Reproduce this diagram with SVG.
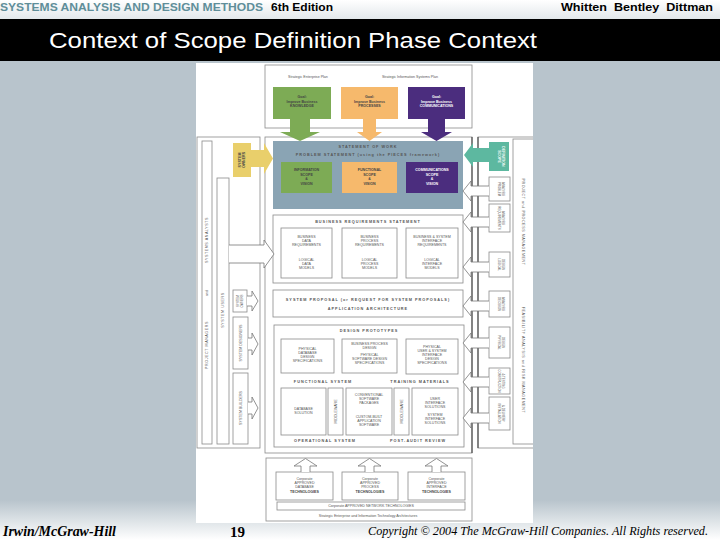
<svg xmlns="http://www.w3.org/2000/svg" width="720" height="540" viewBox="0 0 720 540">
<defs>
<linearGradient id="hdr" x1="0" y1="0" x2="0" y2="1"><stop offset="0" stop-color="#ffffff"/><stop offset="1" stop-color="#e3e8eb"/></linearGradient>
<linearGradient id="ftr" x1="0" y1="0" x2="0" y2="1"><stop offset="0" stop-color="#b8c4cc"/><stop offset="1" stop-color="#ffffff"/></linearGradient>
<clipPath id="fig"><rect x="196" y="63" width="337" height="460"/></clipPath>
</defs>
<style>
.box{fill:#fff;stroke:#8a8a8a;stroke-width:0.8}
.dk{fill:none;stroke:#444;stroke-width:1.1}
.oa{fill:#fff;stroke:#777;stroke-width:0.8}
.t{font-family:"Liberation Sans",Arial,sans-serif;font-size:3.6px;fill:#555;text-anchor:middle}
.tp{font-family:"Liberation Sans",Arial,sans-serif;font-size:2.9px;fill:#555;text-anchor:middle}
.tb{font-family:"Liberation Sans",Arial,sans-serif;font-size:3.6px;fill:#444;text-anchor:middle;font-weight:bold}
.tw{font-family:"Liberation Sans",Arial,sans-serif;font-size:3.6px;fill:#fff;text-anchor:middle;font-weight:bold}
.ts{font-family:"Liberation Sans",Arial,sans-serif;font-size:3.8px;fill:#555;text-anchor:middle;letter-spacing:1px;font-weight:bold}
.hd{font-family:"Liberation Sans",Arial,sans-serif;font-size:11.5px;font-weight:bold}
</style>
<rect width="720" height="540" fill="#b8c4cc"/>
<rect width="720" height="19" fill="url(#hdr)"/>
<rect y="500" width="720" height="40" fill="url(#ftr)"/>
<rect y="19" width="720" height="42" fill="#000"/>
<text class="hd" x="0" y="11" fill="#5f8e99" textLength="263" lengthAdjust="spacingAndGlyphs">SYSTEMS ANALYSIS AND DESIGN METHODS</text>
<text class="hd" x="271" y="11" fill="#000" textLength="62" lengthAdjust="spacingAndGlyphs">6th Edition</text>
<text class="hd" x="561" y="11" fill="#000" textLength="152" lengthAdjust="spacingAndGlyphs" xml:space="preserve">Whitten  Bentley  Dittman</text>
<text x="49" y="48" font-family="Liberation Sans,Arial,sans-serif" font-size="22" fill="#fff" textLength="488" lengthAdjust="spacingAndGlyphs">Context of Scope Definition Phase Context</text>

<g id="figure" clip-path="url(#fig)">
<rect x="196" y="63" width="337" height="460" fill="#fff"/>

<g id="plans">
<rect class="box" x="265" y="65" width="207" height="63"/>
<text class="t" x="308" y="78">Strategic Enterprise Plan</text>
<text class="t" x="410" y="78">Strategic Information Systems Plan</text>
</g>
<g id="goal-knowledge"><rect x="273" y="87" width="58" height="32" fill="#7dab55"/>
<text class="tb" x="302" y="98">Goal:</text><text class="tb" x="302" y="102.5">Improve Business</text><text class="tb" x="302" y="107">KNOWLEDGE</text></g>
<g id="goal-processes"><rect x="341" y="87" width="57" height="32" fill="#f6b96c"/>
<text class="tb" x="369.5" y="98">Goal:</text><text class="tb" x="369.5" y="102.5">Improve Business</text><text class="tb" x="369.5" y="107">PROCESSES</text></g>
<g id="goal-communications"><rect x="408" y="87" width="57" height="32" fill="#4b2d7e"/>
<text class="tw" x="436.5" y="98">Goal:</text><text class="tw" x="436.5" y="102.5">Improve Business</text><text class="tw" x="436.5" y="107">COMMUNICATIONS</text></g>

<g id="main-frame"><rect class="box" x="265" y="137" width="207" height="316"/></g>

<g id="statement-of-work">
<rect x="273" y="141" width="190" height="68" fill="#8aa4b4"/>
<text class="ts" x="368" y="148" fill="#334">STATEMENT OF WORK</text>
<text class="ts" x="368" y="156" letter-spacing="0.6">PROBLEM STATEMENT (using the PIECES framework)</text>
<rect x="281" y="162" width="51" height="31" fill="#7dab55"/>
<text class="tb" x="306.5" y="171">INFORMATION</text><text class="tb" x="306.5" y="175.5">SCOPE</text><text class="tb" x="306.5" y="180">&amp;</text><text class="tb" x="306.5" y="184.5">VISION</text>
<rect x="342" y="162" width="55" height="31" fill="#f6b96c"/>
<text class="tb" x="369.5" y="171">FUNCTIONAL</text><text class="tb" x="369.5" y="175.5">SCOPE</text><text class="tb" x="369.5" y="180">&amp;</text><text class="tb" x="369.5" y="184.5">VISION</text>
<rect x="406" y="162" width="52" height="31" fill="#4b2d7e"/>
<text class="tw" x="432" y="171">COMMUNICATIONS</text><text class="tw" x="432" y="175.5">SCOPE</text><text class="tw" x="432" y="180">&amp;</text><text class="tw" x="432" y="184.5">VISION</text>
</g>

<g id="business-requirements">
<rect class="box" x="273" y="215" width="190" height="68"/>
<text class="ts" x="368" y="222.5">BUSINESS REQUIREMENTS STATEMENT</text>
<rect class="box" x="281" y="228" width="51" height="50"/>
<text class="t" x="306.5" y="238">BUSINESS</text><text class="t" x="306.5" y="242">DATA</text><text class="t" x="306.5" y="246">REQUIREMENTS</text>
<text class="t" x="306.5" y="261">LOGICAL</text><text class="t" x="306.5" y="265">DATA</text><text class="t" x="306.5" y="269">MODELS</text>
<rect class="box" x="342" y="228" width="55" height="50"/>
<text class="t" x="369.5" y="238">BUSINESS</text><text class="t" x="369.5" y="242">PROCESS</text><text class="t" x="369.5" y="246">REQUIREMENTS</text>
<text class="t" x="369.5" y="261">LOGICAL</text><text class="t" x="369.5" y="265">PROCESS</text><text class="t" x="369.5" y="269">MODELS</text>
<rect class="box" x="406" y="228" width="52" height="50"/>
<text class="t" x="432" y="238">BUSINESS &amp; SYSTEM</text><text class="t" x="432" y="242">INTERFACE</text><text class="t" x="432" y="246">REQUIREMENTS</text>
<text class="t" x="432" y="261">LOGICAL</text><text class="t" x="432" y="265">INTERFACE</text><text class="t" x="432" y="269">MODELS</text>
</g>

<g id="system-proposal">
<rect class="box" x="273" y="290" width="190" height="27"/>
<text class="ts" x="368" y="300.5" letter-spacing="0.8">SYSTEM PROPOSAL  (or REQUEST FOR SYSTEM PROPOSALS)</text>
<text class="ts" x="368" y="310">APPLICATION ARCHITECTURE</text>
</g>

<g id="design-prototypes">
<rect class="box" x="274" y="325" width="190" height="122"/>
<text class="ts" x="369" y="332">DESIGN PROTOTYPES</text>
<rect class="box" x="281" y="339" width="53" height="34"/>
<text class="t" x="307.5" y="350">PHYSICAL</text><text class="t" x="307.5" y="354">DATABASE</text><text class="t" x="307.5" y="358">DESIGN</text><text class="t" x="307.5" y="362">SPECIFICATIONS</text>
<rect class="box" x="342" y="339" width="55" height="34"/>
<text class="t" x="369.5" y="345">BUSINESS PROCESS</text><text class="t" x="369.5" y="349">DESIGN</text><text class="t" x="369.5" y="356">PHYSICAL</text><text class="t" x="369.5" y="360">SOFTWARE DESIGN</text><text class="t" x="369.5" y="364">SPECIFICATIONS</text>
<rect class="box" x="406" y="339" width="52" height="35"/>
<text class="t" x="432" y="348">PHYSICAL</text><text class="t" x="432" y="352">USER &amp; SYSTEM</text><text class="t" x="432" y="356">INTERFACE</text><text class="t" x="432" y="360">DESIGN</text><text class="t" x="432" y="364">SPECIFICATIONS</text>
<text class="ts" x="323" y="383">FUNCTIONAL SYSTEM</text>
<text class="ts" x="420" y="383">TRAINING MATERIALS</text>
<rect class="box" x="281" y="388" width="45" height="47"/>
<text class="t" x="303.5" y="410">DATABASE</text><text class="t" x="303.5" y="414">SOLUTION</text>
<rect class="box" x="328" y="388" width="15" height="47"/>
<text class="t" transform="translate(336.5,411.5) rotate(-90)">MIDDLEWARE</text>
<rect class="box" x="346" y="388" width="46" height="47"/>
<text class="t" x="369" y="396">CONVENTIONAL</text><text class="t" x="369" y="400">SOFTWARE</text><text class="t" x="369" y="404">PACKAGES</text>
<text class="t" x="369" y="418">CUSTOM-BUILT</text><text class="t" x="369" y="422">APPLICATION</text><text class="t" x="369" y="426">SOFTWARE</text>
<rect class="box" x="394" y="388" width="15" height="47"/>
<text class="t" transform="translate(402.5,411.5) rotate(-90)">MIDDLEWARE</text>
<rect class="box" x="412" y="388" width="46" height="47"/>
<text class="t" x="435" y="400">USER</text><text class="t" x="435" y="404">INTERFACE</text><text class="t" x="435" y="408">SOLUTIONS</text>
<text class="t" x="435" y="416">SYSTEM</text><text class="t" x="435" y="420">INTERFACE</text><text class="t" x="435" y="424">SOLUTIONS</text>
<text class="ts" x="325" y="442">OPERATIONAL SYSTEM</text>
<text class="ts" x="418" y="442">POST-AUDIT REVIEW</text>
</g>

<g id="technologies">
<rect class="box" x="266" y="458" width="206" height="63"/>
<rect class="box" x="276" y="472" width="57" height="28"/>
<text class="t" x="304.5" y="480">Corporate</text><text class="t" x="304.5" y="484">APPROVED</text><text class="t" x="304.5" y="488">DATABASE</text><text class="tb" x="304.5" y="493">TECHNOLOGIES</text>
<rect class="box" x="342" y="472" width="56" height="28"/>
<text class="t" x="370" y="480">Corporate</text><text class="t" x="370" y="484">APPROVED</text><text class="t" x="370" y="488">PROCESS</text><text class="tb" x="370" y="493">TECHNOLOGIES</text>
<rect class="box" x="408" y="472" width="57" height="28"/>
<text class="t" x="436.5" y="480">Corporate</text><text class="t" x="436.5" y="484">APPROVED</text><text class="t" x="436.5" y="488">INTERFACE</text><text class="tb" x="436.5" y="493">TECHNOLOGIES</text>
<rect class="box" x="277" y="502" width="188" height="8"/>
<text class="t" x="371" y="507.3">Corporate APPROVED NETWORK TECHNOLOGIES</text>
<text class="t" x="368" y="517">Strategic Enterprise and Information Technology Architectures</text>
</g>

<g id="left-stakeholders">
<rect class="box" x="197" y="137" width="63" height="311" stroke="#555"/>
<rect class="box" x="202" y="141" width="10" height="303"/>
<text class="t" transform="translate(208.3,240) rotate(-90)" letter-spacing="0.6">SYSTEMS ANALYSTS</text>
<text class="t" transform="translate(208.3,293) rotate(-90)">and</text>
<text class="t" transform="translate(208.3,345) rotate(-90)" letter-spacing="0.6">PROJECT MANAGERS</text>
<rect class="box" x="217" y="178" width="12" height="266"/>
<text class="t" transform="translate(224.3,310) rotate(-90)" letter-spacing="0.6">SYSTEM USERS</text>
</g>
<g id="system-owners-top"><rect x="233" y="143" width="18" height="34" fill="#e9cf6b"/>
<text class="tb" transform="translate(241,160) rotate(-90)">SYSTEM</text><text class="tb" transform="translate(245,160) rotate(-90)">OWNERS</text></g>
<g id="system-owners-2"><rect class="box" x="233" y="290" width="14" height="22"/>
<text class="tp" transform="translate(239.3,301) rotate(-90)">SYSTEM</text><text class="tp" transform="translate(243.3,301) rotate(-90)">OWNERS</text></g>
<g id="system-designers"><rect class="box" x="233" y="317" width="15" height="52"/>
<text class="t" transform="translate(241.8,343) rotate(-90)">SYSTEM DESIGNERS</text></g>
<g id="system-builders"><rect class="box" x="233" y="373" width="15" height="71"/>
<text class="t" transform="translate(241.8,408) rotate(-90)">SYSTEM BUILDERS</text></g>

<g id="right-phases">
<rect class="box" x="478" y="137" width="70" height="311"/>
<line class="dk" x1="472" y1="137" x2="472" y2="453"/>
<line class="dk" x1="478" y1="137" x2="478" y2="448"/>
<rect class="box" x="513" y="139" width="40" height="305"/>
<text class="t" transform="translate(521.5,222) rotate(90)" letter-spacing="0.6">PROJECT and PROCESS MANAGEMENT</text>
<text class="t" transform="translate(521.5,360) rotate(90)" letter-spacing="0.6">FEASIBILITY ANALYSIS and RISK MANAGEMENT</text>
</g>
<g id="scope-definition"><rect x="489" y="142" width="20" height="29" fill="#5db8a0"/>
<text class="tw" transform="translate(497.5,156.5) rotate(90)" font-size="3px">SCOPE</text><text class="tw" transform="translate(501.5,156.5) rotate(90)" font-size="3px">DEFINITION</text></g>
<g id="problem-analysis"><rect class="box" x="489" y="177" width="21" height="24"/>
<text class="tp" transform="translate(498,189) rotate(90)">PROBLEM</text><text class="tp" transform="translate(502,189) rotate(90)">ANALYSIS</text></g>
<g id="requirements-analysis"><rect class="box" x="489" y="204" width="21" height="28"/>
<text class="tp" transform="translate(498,218) rotate(90)">REQUIREMENTS</text><text class="tp" transform="translate(502,218) rotate(90)">ANALYSIS</text></g>
<g id="logical-design"><rect class="box" x="489" y="252" width="21" height="25"/>
<text class="tp" transform="translate(498,264.5) rotate(90)">LOGICAL</text><text class="tp" transform="translate(502,264.5) rotate(90)">DESIGN</text></g>
<g id="decision-analysis"><rect class="box" x="489" y="291" width="21" height="26"/>
<text class="tp" transform="translate(498,304) rotate(90)">DECISION</text><text class="tp" transform="translate(502,304) rotate(90)">ANALYSIS</text></g>
<g id="physical-design"><rect class="box" x="489" y="327" width="21" height="31"/>
<text class="tp" transform="translate(498,342.5) rotate(90)">PHYSICAL</text><text class="tp" transform="translate(502,342.5) rotate(90)">DESIGN</text></g>
<g id="construction-testing"><rect class="box" x="489" y="368" width="21" height="26"/>
<text class="tp" transform="translate(498,381) rotate(90)">CONSTRUCTION</text><text class="tp" transform="translate(502,381) rotate(90)">&amp; TESTING</text></g>
<g id="installation-delivery"><rect class="box" x="489" y="397" width="21" height="33"/>
<text class="tp" transform="translate(498,413.5) rotate(90)">INSTALLATION</text><text class="tp" transform="translate(502,413.5) rotate(90)">&amp; DELIVERY</text></g>

<g id="connectors">
<polygon fill="#7dab55" points="290,119 310,119 310,132 320,132 300,141 280,132 290,132"/>
<polygon fill="#f6b96c" points="363,119 376,119 376,132 382,132 369.5,141 357,132 363,132"/>
<polygon fill="#4b2d7e" points="428,119 445,119 445,132 452,132 436.5,141 421,132 428,132"/>
<polygon fill="#e9cf6b" points="251,150 264,150 264,143 273,158.5 264,174 264,167 251,167"/>
<polygon fill="#5db8a0" points="489,148 473,148 473,143 464,155 473,167 473,162 489,162"/>
<path class="oa" d="M229,245 H264 V240 L274,254 L264,268 V263 H229"/>
<path class="oa" d="M247,296 H252 V291 L258,301 L252,311 V306 H247"/>
<path class="oa" d="M248,338 H252 V333 L258,344 L252,355 V350 H248"/>
<path class="oa" d="M248,402 H252 V397 L258,408 L252,419 V414 H248"/>
<path class="oa" d="M489,186 H471 V181 L463,191 L471,201 V196 H489"/>
<path class="oa" d="M489,217 H471 V212 L463,222 L471,232 V227 H489"/>
<path class="oa" d="M489,262 H471 V257 L463,267 L471,277 V272 H489"/>
<path class="oa" d="M489,301 H471 V296 L463,306 L471,316 V311 H489"/>
<path class="oa" d="M489,338 H471 V333 L463,343 L471,353 V348 H489"/>
<path class="oa" d="M489,377 H471 V372 L463,382 L471,392 V387 H489"/>
<path class="oa" d="M489,413 H471 V408 L463,418 L471,428 V423 H489"/>
<path class="oa" d="M301,472 V466 H294 L305.5,458.5 L317,466 H310 V472"/>
<path class="oa" d="M365,472 V466 H358 L369.5,458.5 L381,466 H374 V472"/>
<path class="oa" d="M432,472 V466 H425 L436.5,458.5 L448,466 H441 V472"/>
</g>
</g>

<text x="3" y="536" font-family="Liberation Serif,serif" font-size="15" font-weight="bold" font-style="italic" fill="#000" textLength="113" lengthAdjust="spacingAndGlyphs">Irwin/McGraw-Hill</text>
<text x="230" y="537" font-family="Liberation Serif,serif" font-size="15" font-weight="bold" fill="#000">19</text>
<text x="368" y="535" font-family="Liberation Serif,serif" font-size="12" font-style="italic" fill="#000" textLength="340" lengthAdjust="spacingAndGlyphs">Copyright © 2004 The McGraw-Hill Companies. All Rights reserved.</text>
</svg>
